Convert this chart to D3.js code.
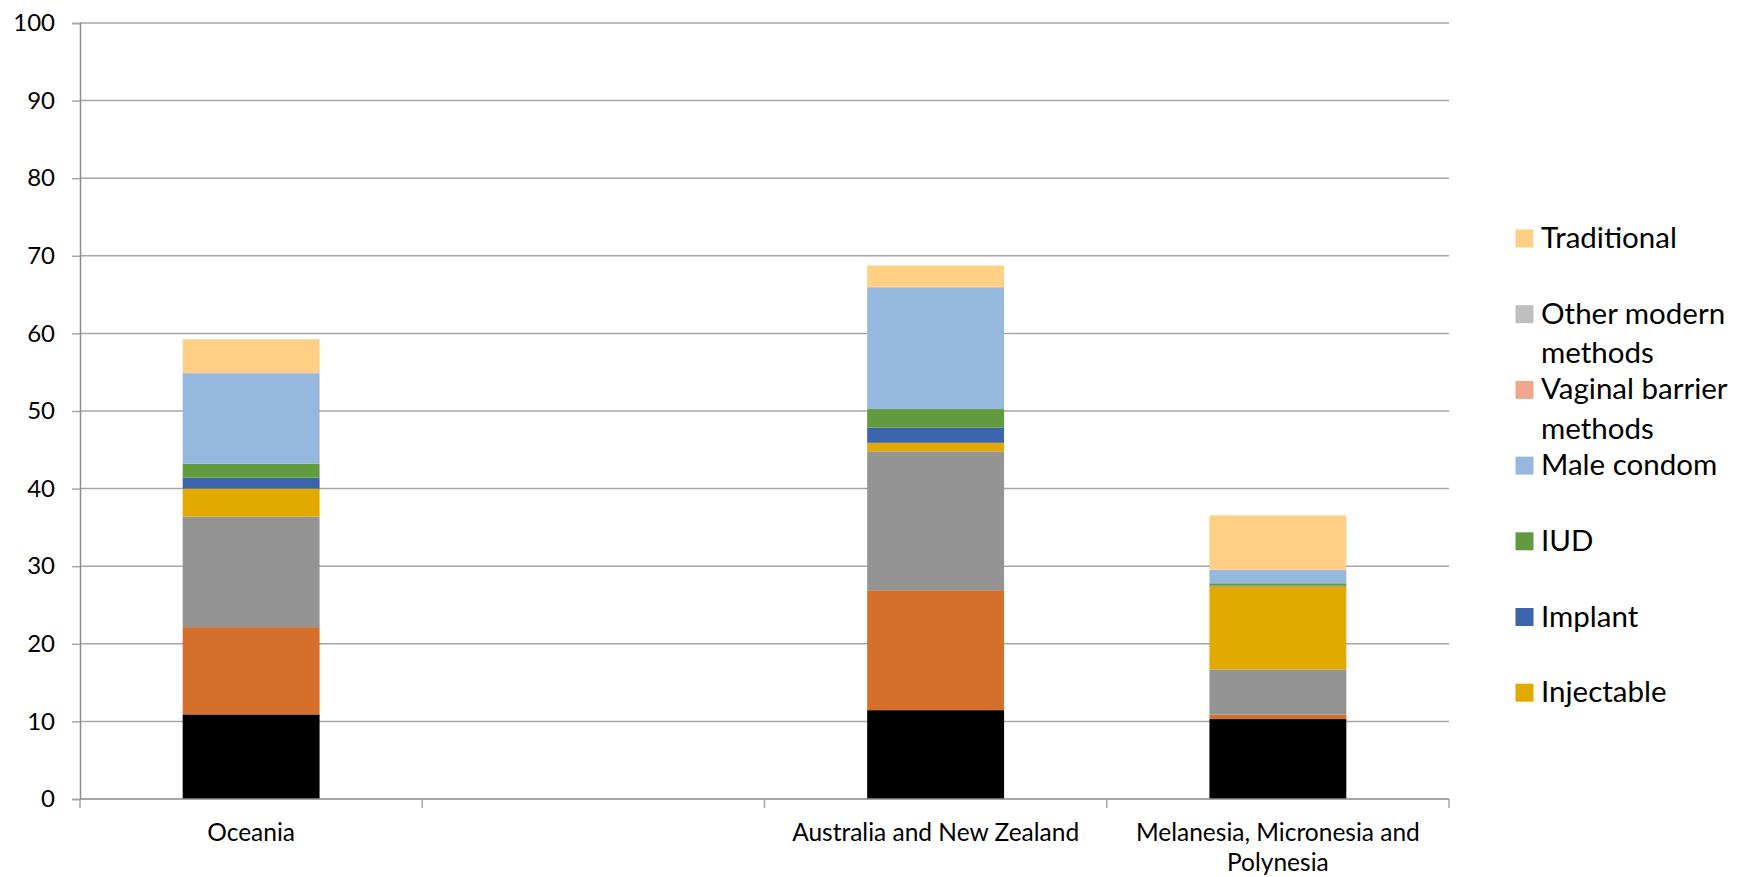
<!DOCTYPE html>
<html>
<head>
<meta charset="utf-8">
<script src="https://cdn.jsdelivr.net/npm/d3@7"></script>
<style>
  html, body { margin: 0; padding: 0; background: #fff; }
  svg { display: block; }
  text { font-family: Lato, "Open Sans", sans-serif; fill: #000; }
</style>
</head>
<body>
<svg id="chart" width="1737" height="877"></svg>
<script>
// ---- data ----
const categories = ["Oceania", "", "Australia and New Zealand", "Melanesia, Micronesia and Polynesia"];
const seriesNames = ["Female sterilization", "Male sterilization", "Pill", "Injectable", "Implant", "IUD",
                     "Male condom", "Vaginal barrier methods", "Other modern methods", "Traditional"];
const femaleSterilization = [10.9, 0, 11.45, 10.3];
const maleSterilization   = [11.25, 0, 15.45, 0.6];
const pill                = [14.25, 0, 17.9, 5.8];
const injectable          = [3.6, 0, 1.1, 10.7];
const implant             = [1.4, 0, 1.95, 0.1];
const iud                 = [1.8, 0, 2.4, 0.3];
const maleCondom          = [11.65, 0, 15.6, 1.7];
const vaginalBarrier      = [0.1, 0, 0.1, 0.0];
const otherModern         = [0.05, 0, 0.05, 0.05];
const traditional         = [4.25, 0, 2.75, 7.0];
const yTicks = [0, 10, 20, 30, 40, 50, 60, 70, 80, 90, 100];
// legend entries that fit in the visible legend area (top of the reversed list)
const legendVisibleCount = 7;

const seriesValues = [femaleSterilization, maleSterilization, pill, injectable, implant, iud,
                      maleCondom, vaginalBarrier, otherModern, traditional];
const colors = ["#000000", "#D46F2C", "#949494", "#E2AA00", "#3C64AC", "#629A3F",
                "#97B8DE", "#F0A88C", "#BFBFBF", "#FFCF85"];

// ---- layout ----
const svg = d3.select("#chart");
const margin = { left: 80, right: 1449, top: 23, bottom: 799 };

const table = categories.map((c, i) => {
  const row = { category: i };
  seriesNames.forEach((s, j) => row[s] = seriesValues[j][i]);
  return row;
});
const stacked = d3.stack().keys(seriesNames)(table);

const x = d3.scaleBand().domain(d3.range(categories.length))
  .range([margin.left, margin.right]).paddingInner(0.6).paddingOuter(0.3);
const y = d3.scaleLinear().domain([0, 100]).range([margin.bottom, margin.top]);

// gridlines
svg.append("g").selectAll("line").data(yTicks.filter(d => d > 0)).join("line")
  .attr("x1", margin.left).attr("x2", margin.right)
  .attr("y1", d => y(d)).attr("y2", d => y(d))
  .attr("stroke", "#A6A6A6").attr("stroke-width", 1.5);

// y axis
const yAxis = d3.axisLeft(y).tickValues(yTicks).tickSize(8).tickPadding(17).tickFormat(d3.format("d"));
const gy = svg.append("g").attr("transform", `translate(${margin.left},0)`).call(yAxis);
gy.select(".domain").attr("stroke", "#8C8C8C").attr("stroke-width", 1.5);
gy.selectAll(".tick line").attr("stroke", "#A6A6A6").attr("stroke-width", 1.5);
gy.selectAll(".tick text").attr("font-family", "Lato").attr("font-size", 24).attr("fill", "#000");

// bars
svg.append("g").selectAll("g").data(stacked).join("g")
  .attr("fill", (d, i) => colors[i])
  .selectAll("rect").data(d => d).join("rect")
  .attr("x", d => x(d.data.category))
  .attr("width", x.bandwidth())
  .attr("y", d => y(d[1]))
  .attr("height", d => y(d[0]) - y(d[1]));

// x axis baseline and boundary ticks
const pad = (x.step() - x.bandwidth()) / 2;
const edges = d3.range(categories.length).map(i => x(i) - pad).concat([x(categories.length - 1) + x.bandwidth() + pad]);
svg.append("line").attr("x1", margin.left).attr("x2", margin.right)
  .attr("y1", y(0)).attr("y2", y(0)).attr("stroke", "#898989").attr("stroke-width", 1.5);
svg.append("g").selectAll("line").data(edges).join("line")
  .attr("x1", d => d).attr("x2", d => d)
  .attr("y1", y(0)).attr("y2", y(0) + 9)
  .attr("stroke", "#A6A6A6").attr("stroke-width", 1.5);

// wrap helper
function wrapLines(textSel, str, maxW) {
  const words = str.split(" ");
  const lines = [];
  let cur = "";
  words.forEach(w => {
    const test = cur ? cur + " " + w : w;
    textSel.text(test);
    if (textSel.node().getComputedTextLength() > maxW && cur) {
      lines.push(cur); cur = w;
    } else cur = test;
  });
  if (cur) lines.push(cur);
  textSel.text(null);
  return lines;
}

// category labels
const catG = svg.append("g");
categories.forEach((c, i) => {
  if (!c) return;
  const t = catG.append("text").attr("text-anchor", "middle").attr("font-size", 24.5);
  const lines = wrapLines(t, c, x.step() - 10);
  lines.forEach((ln, k) => {
    t.append("tspan").attr("x", x(i) + x.bandwidth() / 2)
      .attr("y", 832 + k * 30).attr("dy", "0.35em").text(ln);
  });
});

// legend
const legendItems = seriesNames.map((s, i) => ({ name: s, color: colors[i] })).reverse().slice(0, legendVisibleCount);
const legG = svg.append("g");
legendItems.forEach((d, i) => {
  const cy = 238.5 + i * 75.7;
  legG.append("rect").attr("x", 1515.5).attr("y", cy - 9).attr("width", 18).attr("height", 18).attr("fill", d.color);
  const t = legG.append("text").attr("font-size", 29.5);
  const lines = wrapLines(t, d.name, 1737 - 1541 - 2);
  lines.forEach((ln, k) => {
    t.append("tspan").attr("x", 1541).attr("y", cy + 9.5 + k * 39.4).text(ln);
  });
});
</script>
</body>
</html>
